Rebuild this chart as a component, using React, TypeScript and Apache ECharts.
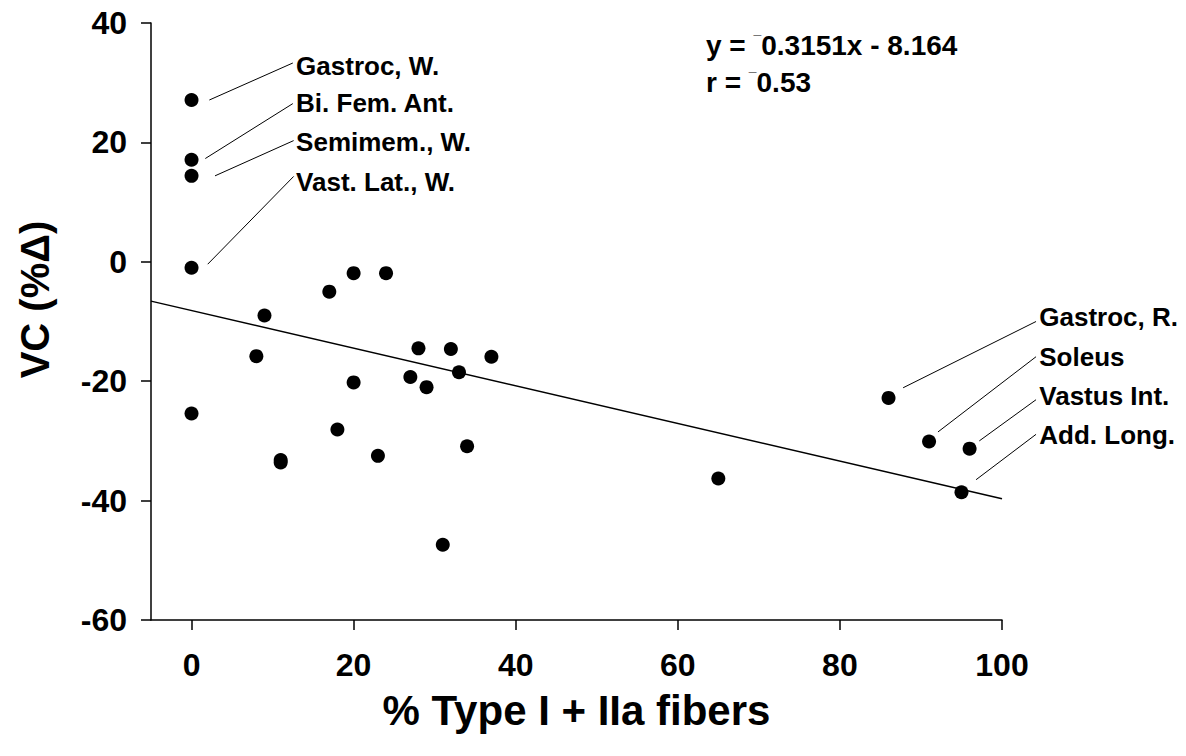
import React, { useEffect, useRef } from "react";
import * as echarts from "echarts";

const xTicks = [0, 20, 40, 60, 80, 100];
const yTicks = [-60, -40, -20, 0, 20, 40];

// [% Type I + IIa fibers, VC (%Δ)]
const points: [number, number][] = [
  [0, 27.1], [0, 17.1], [0, 14.4], [0, -1.0], [0, -25.4],
  [8, -15.8], [9, -9.0], [11, -33.2], [11, -33.6],
  [17, -5.0], [18, -28.1], [20, -1.9], [20, -20.2],
  [23, -32.5], [24, -1.9], [27, -19.3], [28, -14.5], [29, -21.0],
  [31, -47.4], [32, -14.6], [33, -18.5], [34, -30.9], [37, -15.9],
  [65, -36.3], [86, -22.8], [91, -30.1], [95, -38.6], [96, -31.3],
];

const slope = -0.3151;
const intercept = -8.164;
const fitRange = [-5, 100];

// label text, leader-line start [x,y], leader-line end [x,y], text anchor [x,y]
const labelNames = [
  "Gastroc, W.", "Bi. Fem. Ant.", "Semimem., W.", "Vast. Lat., W.",
  "Gastroc, R.", "Soleus", "Vastus Int.", "Add. Long.",
];
const leaderStart: [number, number][] = [
  [2.2, 27.1], [1.7, 17.3], [2.9, 14.4], [2.0, -0.4],
  [87.8, -21.1], [92.1, -28.5], [97.2, -30.0], [96.8, -36.5],
];
const leaderEnd: [number, number][] = [
  [12.5, 33.3], [12.5, 26.5], [12.6, 20.3], [12.6, 14.3],
  [104.2, -10.0], [104.2, -15.9], [104.2, -23.1], [104.2, -28.9],
];
const labelAnchor: [number, number][] = [
  [12.9, 32.8], [12.9, 26.6], [12.9, 20.1], [12.9, 13.4],
  [104.6, -9.2], [104.6, -15.9], [104.6, -22.4], [104.6, -29.0],
];

const FONT = "'Liberation Sans', Arial, sans-serif";

export default function App() {
  const ref = useRef<HTMLDivElement>(null);
  useEffect(() => {
    document.body.style.margin = "0";
    if (!ref.current) return;
    const chart = echarts.init(ref.current, undefined, { renderer: "svg" });
    const fitData = fitRange.map((x) => [x, slope * x + intercept]);
    const leaderData = labelNames.map((_, i) => [
      leaderStart[i][0], leaderStart[i][1], leaderEnd[i][0], leaderEnd[i][1],
    ]);
    chart.setOption({
      animation: false,
      backgroundColor: "#fff",
      grid: { left: 151, right: 184, top: 23, bottom: 136, containLabel: false },
      xAxis: {
        type: "value",
        min: -5,
        max: 100,
        name: "% Type I + IIa fibers",
        nameLocation: "middle",
        nameGap: 69,
        nameTextStyle: { fontFamily: FONT, fontWeight: "bold", fontSize: 42, color: "#000" },
        splitLine: { show: false },
        axisLine: { show: true, onZero: false, lineStyle: { color: "#000", width: 1.5 } },
        axisTick: { show: true, length: 10, lineStyle: { color: "#000", width: 1.5 }, customValues: xTicks },
        axisLabel: {
          customValues: xTicks,
          margin: 29,
          fontFamily: FONT,
          fontWeight: "bold",
          fontSize: 32,
          color: "#000",
        },
      },
      yAxis: {
        type: "value",
        min: yTicks[0],
        max: yTicks[yTicks.length - 1],
        interval: 20,
        name: "VC (%\u0394)",
        nameLocation: "middle",
        nameRotate: 90,
        nameGap: 96,
        nameTextStyle: {
          fontFamily: FONT, fontWeight: "bold", fontSize: 40, color: "#000",
          padding: [0, 0, 0, 44],
        },
        splitLine: { show: false },
        axisLine: { show: true, onZero: false, lineStyle: { color: "#000", width: 1.5 } },
        axisTick: { show: true, length: 10, lineStyle: { color: "#000", width: 1.5 } },
        axisLabel: {
          margin: 24,
          fontFamily: FONT,
          fontWeight: "bold",
          fontSize: 32,
          color: "#000",
        },
      },
      graphic: [
        {
          type: "text",
          left: 706,
          top: 27,
          style: {
            text: "y = {m|\u00AF}0.3151x - 8.164\nr = {m|\u00AF}0.53",
            fontFamily: FONT,
            fontWeight: "bold",
            fontSize: 28,
            lineHeight: 37,
            fill: "#000",
            rich: {
              m: {
                fontFamily: FONT, fontWeight: "bold", fontSize: 14, lineHeight: 14,
                verticalAlign: "top", padding: [7, 0, 0, 0], fill: "#000",
              },
            },
          },
        },
      ],
      series: [
        {
          type: "line",
          name: "fit",
          data: fitData,
          symbol: "none",
          silent: true,
          lineStyle: { color: "#000", width: 1.5 },
          z: 2,
        },
        {
          type: "scatter",
          name: "muscles",
          data: points,
          symbol: "circle",
          symbolSize: 14,
          itemStyle: { color: "#000", opacity: 1 },
          z: 4,
        },
        {
          type: "custom",
          name: "leaders",
          data: leaderData,
          clip: false,
          silent: true,
          encode: { x: [0, 2], y: [1, 3] },
          renderItem: (params: any, api: any) => {
            const s = api.coord([api.value(0), api.value(1)]);
            const e = api.coord([api.value(2), api.value(3)]);
            return {
              type: "line",
              shape: { x1: s[0], y1: s[1], x2: e[0], y2: e[1] },
              style: { stroke: "#000", lineWidth: 1 },
            };
          },
          z: 3,
        },
        {
          type: "scatter",
          name: "labels",
          data: labelAnchor.map((p, i) => ({ value: p, name: labelNames[i] })),
          symbolSize: 0,
          clip: false,
          silent: true,
          itemStyle: { opacity: 1 },
          label: {
            show: true,
            position: "right",
            distance: 0,
            formatter: (p: any) => p.name,
            fontFamily: FONT,
            fontWeight: "bold",
            fontSize: 26,
            color: "#000",
          },
          z: 5,
        },
      ],
    });
    return () => chart.dispose();
  }, []);
  return <div ref={ref} style={{ width: 1186, height: 756 }} />;
}
